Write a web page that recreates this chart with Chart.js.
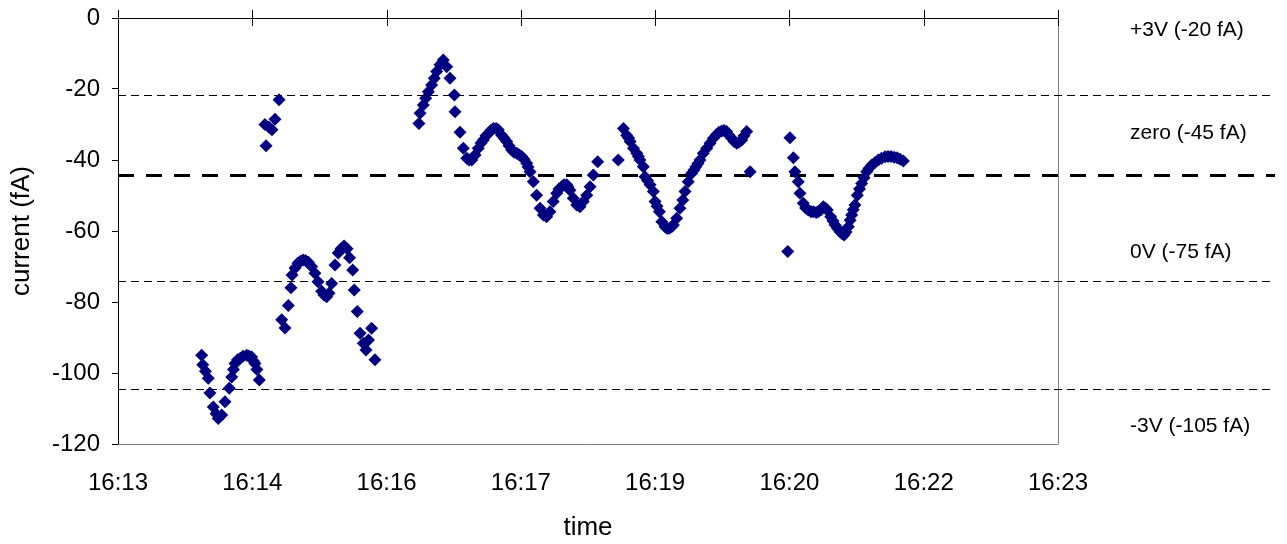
<!DOCTYPE html>
<html>
<head>
<meta charset="utf-8">
<script src="https://cdn.jsdelivr.net/npm/chart.js@4"></script>
<style>
  body { margin: 0; background: #fff; }
  canvas { display: block; }
</style>
</head>
<body>
<canvas id="chart" width="1287" height="544"></canvas>
<script>
// seconds after 16:13:00
const timeSec = [
  53.4, 54.1, 55.8, 57.6, 58.7, 60.8, 62.6, 64.0, 66.2, 68.3, 71.0, 72.6, 73.7, 74.7, 76.3, 77.9,
  79.8, 82.1, 83.6, 85.3, 86.5, 87.4, 88.7, 90.2,
  93.8, 94.5, 96.4, 98.3, 100.2, 102.8,
  104.5, 106.6, 108.7, 110.4, 111.1, 113.0, 114.9, 116.5, 118.1, 119.7, 121.5, 123.6, 125.7, 127.7,
  130.0, 131.5, 133.2, 134.7, 136.4, 138.5, 140.6, 142.3, 144.3, 146.2, 147.8, 149.8, 150.8, 152.7,
  154.5, 156.6, 158.3, 159.9, 161.9, 164.0,
  192.1, 192.8, 194.9, 196.4, 198.1, 200.2, 201.9, 203.4, 205.5, 207.6, 209.8, 211.9, 214.7, 215.1,
  218.3, 220.4, 222.6, 224.1, 225.8, 227.9, 230.0, 231.8, 233.2, 234.9, 236.4, 238.1, 239.6, 241.3,
  242.7, 244.9, 246.4, 248.1, 249.6, 251.3, 252.8, 254.5, 256.0, 257.7, 259.2, 260.9, 261.7, 263.0,
  265.1, 267.2, 269.4, 271.5, 273.6, 275.7, 277.8, 280.0, 281.5, 283.2, 284.7, 286.4, 287.2, 288.5,
  290.6, 292.8, 294.9, 297.0, 299.2, 301.3, 303.4, 306.2, 319.3,
  322.6, 324.7, 325.9, 326.9, 329.0, 331.1, 332.2, 333.2, 335.3, 336.4, 338.0, 339.6, 341.7, 342.8,
  344.1, 345.6, 347.1, 349.2, 350.5, 352.0, 353.4, 354.5, 356.6, 358.7, 360.5, 361.9, 364.0, 366.2,
  367.7, 368.9, 370.2, 371.5, 373.6, 375.8, 377.9, 380.0, 382.1, 383.6, 385.3, 386.8, 388.5, 390.0,
  391.7, 393.2, 394.9, 396.4, 398.1, 399.6, 401.3, 403.5,
  427.5, 428.9, 431.1, 432.1, 434.2, 435.3, 437.4, 438.9, 440.6, 442.4, 443.8, 445.6, 447.0, 448.7,
  450.2, 451.6, 452.7, 454.9, 456.4, 457.7, 459.3, 460.9, 462.2, 463.5, 464.7, 466.2, 467.3, 468.3,
  469.3, 470.4, 471.9, 473.3, 474.7, 476.2, 477.9, 479.4, 481.1, 483.2, 485.3, 487.4, 489.6, 491.5,
  493.4, 495.4, 497.3, 499.2, 501.3
]
const currentFA = [
  -95.0, -97.7, -99.5, -101.5, -105.6, -109.6, -111.5, -112.8, -111.8, -108.1, -104.3, -101.1, -99.0, -97.3, -96.3, -95.9,
  -95.3, -95.0, -95.2, -95.5, -96.6, -97.3, -99.0, -102.0,
  -30.0, -36.0, -30.8, -31.5, -28.5, -23.0,
  -85.0, -87.3, -81.0, -76.0, -72.4, -70.4, -69.0, -68.5, -68.2, -68.3, -68.8, -70.0, -71.9, -74.3,
  -77.0, -78.0, -78.5, -77.5, -74.8, -69.6, -66.2, -65.0, -64.2, -65.0, -67.5, -71.0, -76.6, -82.7,
  -88.8, -91.6, -93.5, -90.7, -87.4, -96.3,
  -29.7, -26.8, -24.5, -22.6, -20.8, -18.9, -17.0, -15.1, -13.2, -11.8, -13.7, -17.0, -21.7, -26.4,
  -32.2, -36.7, -39.5, -40.0, -40.0, -38.6, -36.7, -35.2, -34.4, -33.2, -32.5, -31.6, -31.1, -31.1,
  -31.5, -33.0, -33.8, -34.8, -36.0, -37.2, -37.8, -38.1, -38.5, -39.0, -39.8, -40.9, -42.0, -43.3,
  -46.1, -49.9, -53.6, -55.5, -56.0, -54.6, -51.7, -49.4, -48.2, -47.5, -47.0, -47.0, -47.5, -48.5,
  -50.8, -52.7, -53.2, -51.7, -49.9, -47.5, -44.2, -40.5, -40.0,
  -31.1, -33.0, -33.8, -34.8, -36.7, -38.1, -39.0, -40.0, -41.9, -44.7, -45.8, -47.0, -48.9, -51.7,
  -53.0, -54.6, -57.4, -58.8, -59.3, -59.2, -58.8, -58.3, -56.4, -53.6, -51.3, -48.9, -46.1, -43.7,
  -42.8, -41.9, -41.0, -40.0, -38.1, -36.7, -35.3, -33.9, -32.8, -32.2, -31.8, -31.7, -32.0, -33.0,
  -33.9, -34.8, -35.3, -35.0, -34.4, -33.2, -32.0, -43.3,
  -65.8, -33.7, -39.4, -43.3, -46.1, -49.4, -52.2, -53.5, -54.1, -54.6, -54.6, -54.8, -54.6, -54.0,
  -53.2, -53.6, -54.1, -56.0, -57.2, -58.3, -59.3, -60.2, -60.8, -61.1, -60.3, -58.8, -57.0, -55.5,
  -54.0, -52.7, -49.9, -48.2, -46.6, -45.0, -43.3, -42.3, -41.4, -40.7, -40.0, -39.5, -39.1, -39.0,
  -39.0, -39.2, -39.4, -39.8, -40.3
]
const tickLabels = ['16:13', '16:14', '16:16', '16:17', '16:19', '16:20', '16:22', '16:23']

// reference levels drawn as dashed lines
const refValues = [-21.7, -44.2, -74.1, -104.5]
const refThick = [false, true, false, false]
const refLabels = ['+3V (-20 fA)', 'zero (-45 fA)', '0V (-75 fA)', '-3V (-105 fA)']
const refLabelAt = [-3.4, -32.4, -65.9, -114.9]

const FONT = '"Liberation Sans", Arial, sans-serif'

const decor = {
  id: 'decor',
  beforeDatasetsDraw(chart) {
    const { ctx, chartArea: a, scales: { x, y } } = chart
    ctx.save()

    // grey frame on right and bottom
    ctx.strokeStyle = '#808080'
    ctx.lineWidth = 1
    ctx.beginPath()
    ctx.moveTo(a.left, a.bottom + 0.5)
    ctx.lineTo(a.right + 0.5, a.bottom + 0.5)
    ctx.lineTo(a.right + 0.5, a.top)
    ctx.stroke()

    // dashed reference lines, running past the plot area
    ctx.strokeStyle = '#000'
    refValues.forEach((v, i) => {
      const py = Math.round(y.getPixelForValue(v)) + 0.5
      ctx.setLineDash(refThick[i] ? [16, 12] : [8, 5])
      ctx.lineWidth = refThick[i] ? 3 : 1.2
      ctx.beginPath()
      ctx.moveTo(a.left, py)
      ctx.lineTo(chart.width - 12, py)
      ctx.stroke()
    })
    ctx.setLineDash([])

    // time axis sits at y = 0 (top), ticks cross it
    ctx.lineWidth = 1
    ctx.beginPath()
    ctx.moveTo(a.left, a.top + 0.5)
    ctx.lineTo(a.right, a.top + 0.5)
    x.ticks.forEach(t => {
      const px = Math.round(x.getPixelForValue(t.value)) + 0.5
      ctx.moveTo(px, a.top - 8)
      ctx.lineTo(px, a.top + 8)
    })
    ctx.stroke()

    ctx.fillStyle = '#000'
    ctx.font = '21px ' + FONT
    ctx.textAlign = 'left'
    ctx.textBaseline = 'middle'
    refLabels.forEach((s, i) => {
      ctx.fillText(s, a.right + 72, y.getPixelForValue(refLabelAt[i]))
    })
    ctx.restore()
  }
}

const points = timeSec.map((t, i) => ({ x: t, y: currentFA[i] }))

new Chart(document.getElementById('chart').getContext('2d'), {
  type: 'scatter',
  data: {
    datasets: [{
      data: points,
      pointStyle: 'rectRot',
      pointRadius: 6.5,
      backgroundColor: '#000080',
      borderColor: '#000080',
      borderWidth: 0
    }]
  },
  options: {
    responsive: false,
    animation: false,
    layout: { padding: { top: 18, right: 229, left: 0, bottom: 0 } },
    plugins: {
      legend: { display: false },
      tooltip: { enabled: false }
    },
    scales: {
      x: {
        type: 'linear',
        min: 0,
        max: 600,
        afterBuildTicks: (s) => {
          s.ticks = tickLabels.map((_, i) => ({ value: i * 600 / 7 }))
        },
        afterFit: (s) => {
          s.height = 100
          s.paddingLeft = 0
          s.paddingRight = 0
        },
        ticks: {
          callback: (v, i) => tickLabels[i],
          autoSkip: false,
          maxRotation: 0,
          padding: 25,
          color: '#000',
          font: { family: FONT, size: 24 }
        },
        grid: { display: false, drawTicks: false },
        border: { display: false },
        title: {
          display: true,
          text: 'time',
          color: '#000',
          padding: { top: 0, bottom: 1 },
          font: { family: FONT, size: 26 }
        }
      },
      y: {
        min: -120,
        max: 0,
        afterFit: (s) => {
          s.width = 118
          s.paddingTop = 0
          s.paddingBottom = 0
        },
        ticks: {
          stepSize: 20,
          padding: 12,
          color: '#000',
          font: { family: FONT, size: 24 }
        },
        grid: { drawOnChartArea: false, color: '#000', tickLength: 6 },
        border: { color: '#000', width: 1 },
        title: {
          display: true,
          text: 'current (fA)',
          color: '#000',
          padding: { top: 6, bottom: 0 },
          font: { family: FONT, size: 26 }
        }
      }
    }
  },
  plugins: [decor]
})
</script>
</body>
</html>
